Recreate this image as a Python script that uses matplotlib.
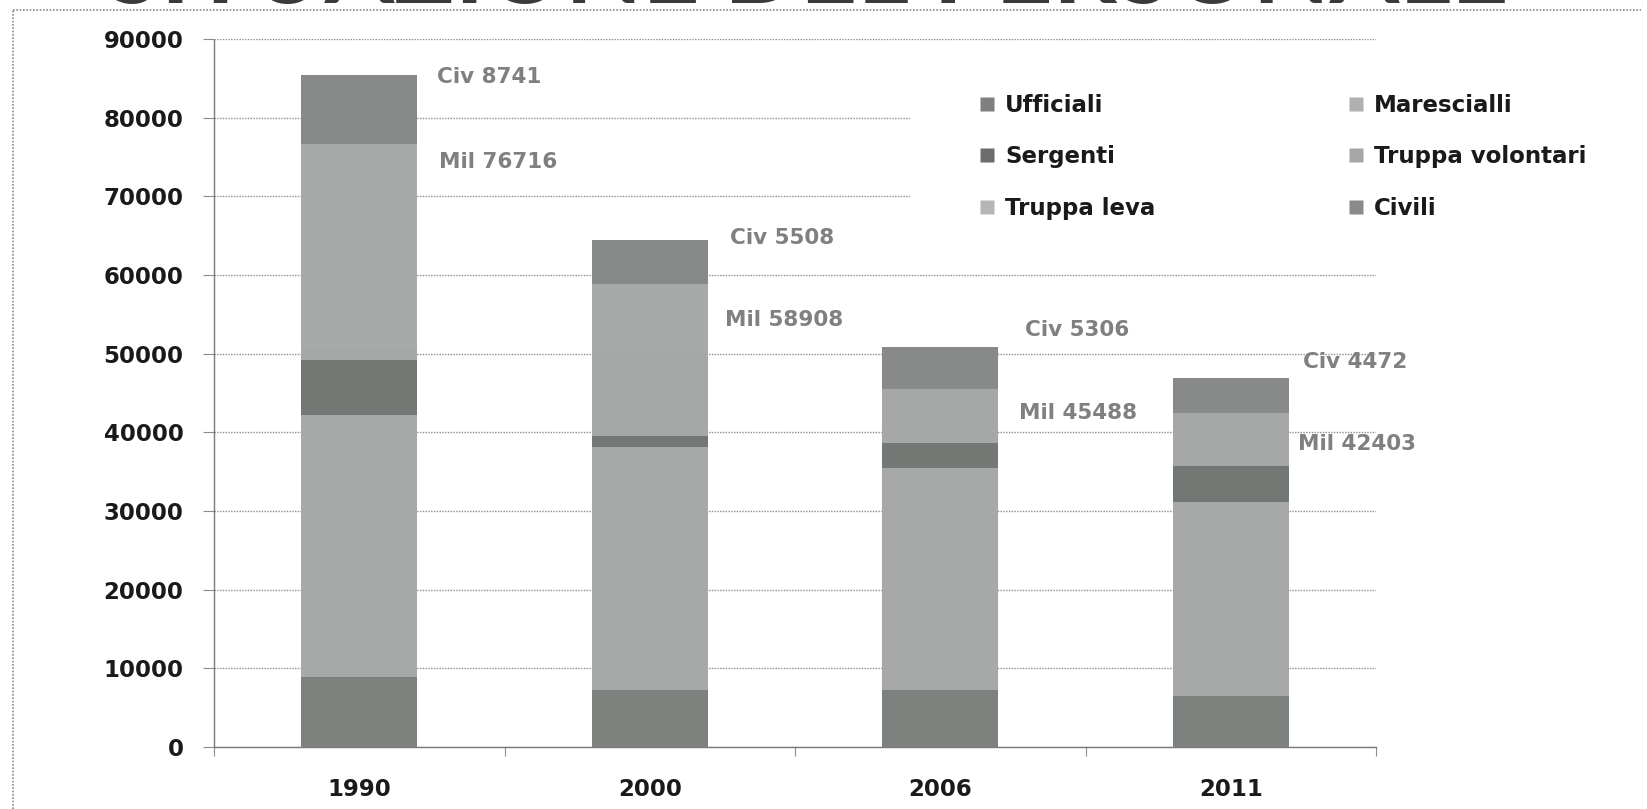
import matplotlib
matplotlib.use("Agg")
import matplotlib.pyplot as plt
from matplotlib.lines import Line2D
from matplotlib.patches import Rectangle

# Personnel by year, stacked from the bottom in this order
years = ["1990", "2000", "2006", "2011"]
series_names = ["Ufficiali", "Marescialli", "Sergenti",
                "Truppa volontari", "Truppa leva", "Civili"]
ufficiali = [8916, 7243, 7250, 6520]
marescialli = [33300, 30917, 28240, 24650]
sergenti = [7000, 1360, 3180, 4570]
truppa_volontari = [1500, 11000, 6818, 6663]
truppa_leva = [26000, 8388, 0, 0]
civili = [8741, 5508, 5306, 4472]
y_ticks = [0, 10000, 20000, 30000, 40000, 50000, 60000, 70000, 80000, 90000]

series = [ufficiali, marescialli, sergenti, truppa_volontari, truppa_leva, civili]
colors = ["#7e827f", "#a7a9a8", "#747875", "#a6a8a7", "#a8aaa9", "#878a88"]
legend_colors = ["#7f7f7f", "#b0b0b0", "#6c6c6c", "#a6a6a6", "#b6b6b6", "#8a8a8a"]

TEXT_FONT = ["Lato", "DejaVu Sans"]
NUM_FONT = ["DejaVu Sans"]
W, H = 1647, 809

fig = plt.figure(figsize=(W / 100, H / 100), dpi=100)
fig.patch.set_facecolor("white")

# axes placed in pixel terms
x0, x1, y_top, y_zero = 214, 1376, 39, 747
ax = fig.add_axes([x0 / W, 1 - y_zero / H, (x1 - x0) / W, (y_zero - y_top) / H])
ax.set_xlim(-0.5, len(years) - 0.5)
ax.set_ylim(0, 90000)

xs = list(range(len(years)))
bottom = [0] * len(years)
for vals, col in zip(series, colors):
    ax.bar(xs, vals, width=0.40, bottom=bottom, color=col, linewidth=0, zorder=3)
    bottom = [b + v for b, v in zip(bottom, vals)]

# grid and spines
ax.set_axisbelow(True)
ax.yaxis.grid(True, linestyle=(0, (1, 1)), color="#8c8c8c", linewidth=1.0)
for s in ["top", "right"]:
    ax.spines[s].set_visible(False)
for s in ["left", "bottom"]:
    ax.spines[s].set_linestyle((0, (1, 1)))
    ax.spines[s].set_color("#7a7a7a")
    ax.spines[s].set_linewidth(1.0)

ax.set_yticks(y_ticks)
ax.set_yticklabels([str(v) for v in y_ticks])
ax.tick_params(axis="y", length=8, width=0.8, color="#8c8c8c", pad=14,
               labelsize=16.5, labelcolor="#1a1a1a")

ax.set_xticks(xs)
ax.set_xticklabels(years)
ax.set_xticks([i - 0.5 for i in range(len(years) + 1)], minor=True)
ax.tick_params(axis="x", which="major", length=0, pad=22, labelsize=16.5,
               labelcolor="#1a1a1a")
ax.tick_params(axis="x", which="minor", length=6.5, width=0.8, color="#8c8c8c")
for lab in ax.get_xticklabels() + ax.get_yticklabels():
    lab.set_family(NUM_FONT)
    lab.set_fontweight("bold")

# totals next to each bar
mil = [sum(v) for v in zip(*series[:5])]
tot = [m + c for m, c in zip(mil, civili)]
civ_off = [(20, 2), (22, -2), (27, -17), (14, -16)]
mil_off = [(22, 18), (17, 36), (21, 24), (9, 31)]
for i in xs:
    ax.annotate(f"Civ {civili[i]}", xy=(i + 0.2, tot[i]),
                xytext=(civ_off[i][0], -civ_off[i][1]), textcoords="offset pixels",
                ha="left", va="center", fontsize=15.5, fontweight="bold",
                color="#808080", family=NUM_FONT, annotation_clip=False, zorder=5)
    ax.annotate(f"Mil {mil[i]}", xy=(i + 0.2, mil[i]),
                xytext=(mil_off[i][0], -mil_off[i][1]), textcoords="offset pixels",
                ha="left", va="center", fontsize=15.5, fontweight="bold",
                color="#808080", family=NUM_FONT, annotation_clip=False, zorder=5)

# white panel behind the legend
fig.add_artist(Rectangle((910 / W, 1 - 245 / H), (W - 910) / W, 190 / H,
                         transform=fig.transFigure, facecolor="white",
                         edgecolor="none", zorder=2))

# legend laid out row by row: matplotlib fills columns first
order = [0, 2, 4, 1, 3, 5]
handles = [Line2D([], [], marker="s", linestyle="none", markersize=9.4,
                  markerfacecolor=legend_colors[k], markeredgecolor="none")
           for k in order]
labels = [series_names[k] for k in order]
leg = fig.legend(handles, labels, ncol=2, loc="upper left",
                 bbox_to_anchor=(976 / W, 1 - 89 / H), frameon=False,
                 prop={"family": NUM_FONT, "weight": "bold", "size": 16.5},
                 handlelength=0.57, handletextpad=0.5, labelspacing=1.26,
                 columnspacing=8.45, borderaxespad=0, borderpad=0.2)
leg.set_zorder(6)
for t in leg.get_texts():
    t.set_color("#1a1a1a")

# heading, mostly above the top edge of the slide
fig.text(0.49, 1 - 3 / H, "SITUAZIONE DEL PERSONALE", ha="center", va="baseline",
         fontsize=72, fontweight="bold", color="#3a3a3a", family=TEXT_FONT)

# slide frame
fig.add_artist(Line2D([13 / W, 13 / W], [0, 1 - 10 / H], transform=fig.transFigure,
                      color="#8a8a8a", linewidth=1.2, linestyle=(0, (1, 1))))
fig.add_artist(Line2D([13 / W, 1641 / W], [1 - 10 / H, 1 - 10 / H],
                      transform=fig.transFigure, color="#8a8a8a", linewidth=1.2,
                      linestyle=(0, (1, 1))))

fig.savefig("out.png", dpi=100, facecolor="white")
